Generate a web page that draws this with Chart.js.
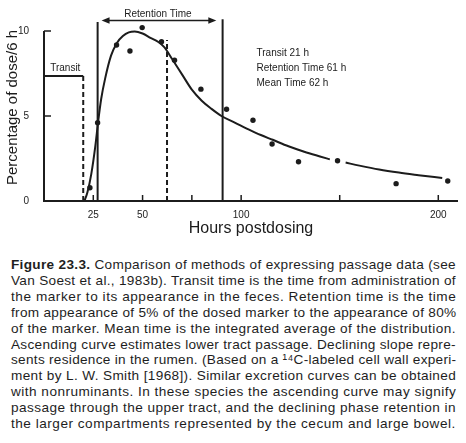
<!DOCTYPE html>
<html>
<head>
<meta charset="utf-8">
<script src="https://cdn.jsdelivr.net/npm/chart.js@4.4.1/dist/chart.umd.min.js"></script>
<style>
  body { margin: 0; background: #fff; width: 466px; height: 443px; overflow: hidden; font-family: "Liberation Sans", Arial, sans-serif; }
  #wrap { position: absolute; left: 0; top: 0; width: 466px; height: 240px; }
  #caption { position: absolute; left: 11px; top: 257px; width: 445px; font-size: 13.6px; line-height: 15.9px; color: #1e1e1e; }
  #caption .ln { white-space: nowrap; width: max-content; }
</style>
</head>
<body>
<div id="wrap"><canvas id="c" width="466" height="240"></canvas></div>
<div id="caption">
  <div class="ln"><b>Figure 23.3.</b> Comparison of methods of expressing passage data (see</div>
  <div class="ln">Van Soest et al., 1983b). Transit time is the time from administration of</div>
  <div class="ln">the marker to its appearance in the feces. Retention time is the time</div>
  <div class="ln">from appearance of 5% of the dosed marker to the appearance of 80%</div>
  <div class="ln">of the marker. Mean time is the integrated average of the distribution.</div>
  <div class="ln">Ascending curve estimates lower tract passage. Declining slope repre-</div>
  <div class="ln">sents residence in the rumen. (Based on a ¹⁴C-labeled cell wall experi-</div>
  <div class="ln">ment by L. W. Smith [1968]). Similar excretion curves can be obtained</div>
  <div class="ln">with nonruminants. In these species the ascending curve may signify</div>
  <div class="ln">passage through the upper tract, and the declining phase retention in</div>
  <div class="ln">the larger compartments represented by the cecum and large bowel.</div>
</div>
<script>
// measured samples (hours postdosing, % of dose per 6 h)
const sampleHours = [23.3, 27.2, 36.8, 43.6, 49.8, 59.6, 66.2, 79.6, 92.6, 106, 115.7, 129.1, 148.9, 178.6, 204.8];
const sampleDose = [0.78, 4.6, 9.18, 8.82, 10.2, 9.37, 8.28, 6.58, 5.4, 4.75, 3.35, 2.31, 2.37, 1.02, 1.18];

// fitted excretion curve (null = break in the printed line)
const curveHours = [20.5, 22, 24, 26, 27.5, 29, 31, 34, 37, 40, 43, 46, 50, 54, 58, 61, 65, 70, 75, 80, 85, 90, 97, 104, 110, 116, 124, 132, 140, 145, 149, 153, 160, 170, 180, 190, 202];
const curveDose = [0, 0.5, 1.6, 3.2, 4.7, 6.0, 7.2, 8.55, 9.3, 9.7, 9.92, 9.97, 9.85, 9.6, 9.35, 9.05, 8.35, 7.45, 6.55, 5.9, 5.42, 5.0, 4.6, 4.2, 3.88, 3.6, 3.22, 2.9, 2.62, 2.45, null, 2.26, 2.08, 1.85, 1.67, 1.52, 1.35];

// axes
const xTicks = [25, 50, 75, 100, 150, 200];
const xLabels = [25, 50, 100, 200];
const yTicks = [0, 5, 10];
const xMax = 210;
const yMax = 11;

// markers on the plot (hours / % dose)
const transitHour = 19.9;
const transitLevel = 7.35;
const retentionStart = 27.2;
const retentionEnd = 90.6;
const retentionTops = [10.53, 10.69];
const meanHour = 62.4;
const meanTop = 9.47;
const arrowLevel = 10.62;
const arrowFrom = 29.2;
const arrowTo = 87.4;

const notes = ['Transit 21 h', 'Retention Time 61 h', 'Mean Time 62 h'];
const noteLevels = [8.7, 7.78, 6.94];
const noteHour = 107.8;

const ink = '#1c1c1c';
const fontFamily = '"Liberation Sans", Arial, sans-serif';

const pts = (xs, ys) => xs.map((h, i) => ({ x: h, y: ys[i] }));

const overlay = {
  id: 'overlay',
  afterDatasetsDraw(chart) {
    const { ctx, scales: { x, y } } = chart;
    const x0 = x.getPixelForValue(0);
    const y0 = y.getPixelForValue(0);
    ctx.save();
    ctx.strokeStyle = ink;
    ctx.fillStyle = ink;

    // axis lines, y stops at its top tick
    ctx.lineWidth = 2;
    ctx.beginPath();
    ctx.moveTo(x0, y.getPixelForValue(yTicks[yTicks.length - 1]));
    ctx.lineTo(x0, y0);
    ctx.lineTo(x.getPixelForValue(xMax), y0);
    ctx.stroke();

    // tick marks point inward
    ctx.lineWidth = 1.5;
    xTicks.forEach(v => {
      const p = x.getPixelForValue(v);
      ctx.beginPath();
      ctx.moveTo(p, y0);
      ctx.lineTo(p, y0 - 6);
      ctx.stroke();
    });
    yTicks.filter(v => v > 0).forEach(v => {
      const p = y.getPixelForValue(v);
      ctx.beginPath();
      ctx.moveTo(x0, p);
      ctx.lineTo(x0 + 7, p);
      ctx.stroke();
    });

    // retention arrow
    const ay = y.getPixelForValue(arrowLevel);
    const a1 = x.getPixelForValue(arrowFrom);
    const a2 = x.getPixelForValue(arrowTo);
    ctx.beginPath();
    ctx.moveTo(a1 + 4, ay);
    ctx.lineTo(a2 - 4, ay);
    ctx.stroke();
    [[a1, 1], [a2, -1]].forEach(([p, d]) => {
      ctx.beginPath();
      ctx.moveTo(p, ay);
      ctx.lineTo(p + d * 8, ay - 3.2);
      ctx.lineTo(p + d * 8, ay + 3.2);
      ctx.closePath();
      ctx.fill();
    });

    // labels
    ctx.font = '10px ' + fontFamily;
    ctx.textBaseline = 'middle';
    ctx.textAlign = 'center';
    ctx.fillText('Retention Time', x.getPixelForValue(57.8), y.getPixelForValue(11.0));
    ctx.fillText('Transit', x.getPixelForValue(10.8), y.getPixelForValue(7.82));
    ctx.textAlign = 'left';
    notes.forEach((t, i) => ctx.fillText(t, x.getPixelForValue(noteHour), y.getPixelForValue(noteLevels[i])));
    ctx.restore();
  }
};

const plain = { pointRadius: 0, borderColor: ink, borderWidth: 2, fill: false };

new Chart(document.getElementById('c'), {
  type: 'line',
  data: {
    datasets: [
      { ...plain, data: pts(curveHours, curveDose), cubicInterpolationMode: 'monotone', spanGaps: false },
      { ...plain, data: [{ x: 0, y: transitLevel }, { x: transitHour, y: transitLevel }] },
      { ...plain, data: [{ x: transitHour, y: transitLevel }, { x: transitHour, y: 0 }], borderDash: [5, 3] },
      { ...plain, data: [{ x: retentionStart, y: 0 }, { x: retentionStart, y: retentionTops[0] }] },
      { ...plain, data: [{ x: retentionEnd, y: 0 }, { x: retentionEnd, y: retentionTops[1] }] },
      { ...plain, data: [{ x: meanHour, y: 0 }, { x: meanHour, y: meanTop }], borderDash: [5, 3] },
      { data: pts(sampleHours, sampleDose), showLine: false, pointRadius: 2.7, pointBackgroundColor: ink, pointBorderWidth: 0 }
    ]
  },
  options: {
    responsive: false,
    animation: false,
    layout: { padding: { top: 14, right: 8, left: 0, bottom: 0 } },
    plugins: { legend: { display: false }, tooltip: { enabled: false } },
    scales: {
      x: {
        type: 'linear', min: 0, max: xMax,
        grid: { display: false }, border: { display: false },
        afterBuildTicks: s => { s.ticks = xTicks.map(v => ({ value: v })); },
        afterFit: s => { s.height = 39; },
        ticks: { callback: v => xLabels.includes(v) ? String(v) : '', padding: 0, autoSkip: false, maxRotation: 0, color: ink, font: { size: 10, family: fontFamily } },
        title: { display: true, text: 'Hours postdosing', color: ink, font: { size: 16, family: fontFamily }, padding: { top: 0, bottom: 2 } }
      },
      y: {
        min: 0, max: yMax,
        grid: { display: false }, border: { display: false },
        afterBuildTicks: s => { s.ticks = yTicks.map(v => ({ value: v })); },
        afterFit: s => { s.width = 44; },
        ticks: { padding: 7, color: ink, font: { size: 10, family: fontFamily } },
        title: { display: true, text: 'Percentage of dose/6 h', color: ink, font: { size: 15, family: fontFamily }, padding: { top: 4, bottom: 4 } }
      }
    }
  },
  plugins: [overlay]
});

// stretch every caption line to the full column width, like the printed block
const captionWidth = 445;
document.querySelectorAll('#caption .ln').forEach(line => {
  const chars = line.textContent.trim().length;
  const extra = captionWidth - line.offsetWidth;
  line.style.letterSpacing = (extra / chars) + 'px';
});
</script>
</body>
</html>
